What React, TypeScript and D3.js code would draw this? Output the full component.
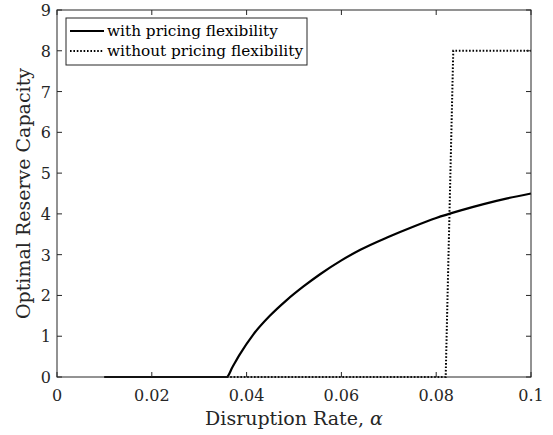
import * as d3 from 'd3'
import React from 'react'

// disruption rate (x) and optimal reserve capacity (y)
const alphaWith = [0.01, 0.02, 0.03, 0.0358, 0.037, 0.0386, 0.0414, 0.0449, 0.0484, 0.052, 0.0555, 0.06, 0.064, 0.07, 0.075, 0.08, 0.085, 0.09, 0.095, 0.1]
const capWith = [0, 0, 0, 0, 0.24, 0.56, 1.04, 1.5, 1.88, 2.22, 2.52, 2.86, 3.12, 3.44, 3.68, 3.9, 4.08, 4.24, 4.38, 4.5]

const alphaWithout = [0.01, 0.082, 0.0836, 0.1]
const capWithout = [0, 0, 8, 8]

const xTicks = [0, 0.02, 0.04, 0.06, 0.08, 0.1]
const xTickLabels = ['0', '0.02', '0.04', '0.06', '0.08', '0.1']
const yTicks = [0, 1, 2, 3, 4, 5, 6, 7, 8, 9]

const seriesNames = ['with pricing flexibility', 'without pricing flexibility']

export default function App() {
    const ref = React.useRef<SVGSVGElement>(null)

    React.useEffect(() => {
        const width = 553, height = 435
        const left = 57, right = 531, top = 10, bottom = 377
        const axisColor = '#262626'
        const font = '"DejaVu Serif", serif'

        const svg = d3.select(ref.current)
        svg.selectAll('*').remove()
        svg.attr('width', width).attr('height', height)
            .style('font-family', font)

        svg.append('rect').attr('width', width).attr('height', height).attr('fill', 'white')

        const x = d3.scaleLinear().domain([0, 0.1]).range([left, right])
        const y = d3.scaleLinear().domain([0, 9]).range([bottom, top])

        // curves
        const solid = d3.line<number>()
            .x((d, i) => x(alphaWith[i]))
            .y(d => y(d))
            .curve(d3.curveMonotoneX)
        const dotted = d3.line<number>()
            .x((d, i) => x(alphaWithout[i]))
            .y(d => y(d))

        svg.append('path')
            .attr('d', dotted(capWithout))
            .attr('fill', 'none')
            .attr('stroke', 'black')
            .attr('stroke-width', 2)
            .attr('stroke-dasharray', '1.6,1.8')

        svg.append('path')
            .attr('d', solid(capWith))
            .attr('fill', 'none')
            .attr('stroke', 'black')
            .attr('stroke-width', 2.2)

        // box
        svg.append('rect')
            .attr('x', left).attr('y', top)
            .attr('width', right - left).attr('height', bottom - top)
            .attr('fill', 'none')
            .attr('stroke', axisColor)
            .attr('stroke-width', 1)

        const tickLen = 5
        xTicks.forEach((t, i) => {
            const px = x(t)
            svg.append('line').attr('x1', px).attr('x2', px).attr('y1', bottom).attr('y2', bottom - tickLen)
                .attr('stroke', axisColor)
            svg.append('line').attr('x1', px).attr('x2', px).attr('y1', top).attr('y2', top + tickLen)
                .attr('stroke', axisColor)
            svg.append('text')
                .attr('x', px).attr('y', 401)
                .attr('text-anchor', 'middle')
                .attr('font-size', 16)
                .attr('fill', axisColor)
                .text(xTickLabels[i])
        })
        yTicks.forEach(t => {
            const py = y(t)
            svg.append('line').attr('x1', left).attr('x2', left + tickLen).attr('y1', py).attr('y2', py)
                .attr('stroke', axisColor)
            svg.append('line').attr('x1', right).attr('x2', right - tickLen).attr('y1', py).attr('y2', py)
                .attr('stroke', axisColor)
            svg.append('text')
                .attr('x', left - 6).attr('y', py + 6)
                .attr('text-anchor', 'end')
                .attr('font-size', 16)
                .attr('fill', axisColor)
                .text(t)
        })

        // axis labels
        const xl = svg.append('text')
            .attr('x', (left + right) / 2).attr('y', 425)
            .attr('text-anchor', 'middle')
            .attr('font-size', 19)
            .attr('fill', axisColor)
        xl.append('tspan').text('Disruption Rate, ')
        xl.append('tspan').attr('font-style', 'italic').text('α')

        svg.append('text')
            .attr('transform', `translate(30,${(top + bottom) / 2}) rotate(-90)`)
            .attr('text-anchor', 'middle')
            .attr('font-size', 19)
            .attr('fill', axisColor)
            .text('Optimal Reserve Capacity')

        // legend
        const lg = svg.append('g')
        lg.append('rect')
            .attr('x', 66).attr('y', 18).attr('width', 241).attr('height', 47)
            .attr('fill', 'white').attr('stroke', axisColor).attr('stroke-width', 1)
        const rows = [31, 51]
        rows.forEach((ry, i) => {
            lg.append('line')
                .attr('x1', 70).attr('x2', 104).attr('y1', ry).attr('y2', ry)
                .attr('stroke', 'black')
                .attr('stroke-width', 2)
                .attr('stroke-dasharray', i === 1 ? '1.6,1.8' : null)
            lg.append('text')
                .attr('x', 107).attr('y', ry + 5)
                .attr('font-size', 15.3)
                .attr('fill', 'black')
                .text(seriesNames[i])
        })
    }, [])

    return (
        <div style={{ position: 'absolute', left: 0, top: 0 }}>
            <svg ref={ref}></svg>
        </div>
    )
}
